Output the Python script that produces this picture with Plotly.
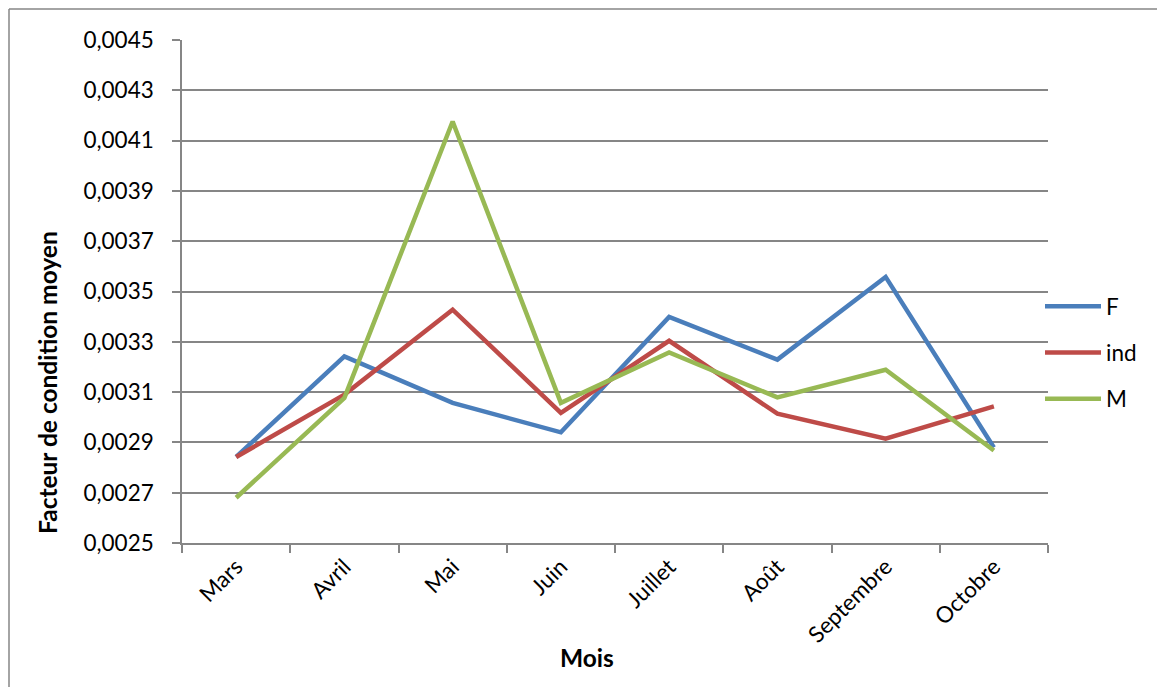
import plotly.graph_objects as go

# Mean condition factor by month and sex
mois = ["Mars", "Avril", "Mai", "Juin", "Juillet", "Août", "Septembre", "Octobre"]
f_vals = [0.002842, 0.003242, 0.003057, 0.002940, 0.003399, 0.003229, 0.003558, 0.002880]
ind_vals = [0.002842, 0.003090, 0.003428, 0.003017, 0.003304, 0.003014, 0.002915, 0.003043]
m_vals = [0.002680, 0.003077, 0.004176, 0.003057, 0.003258, 0.003079, 0.003189, 0.002868]

series = [("F", f_vals, "#4A7EBB"), ("ind", ind_vals, "#BE4B48"), ("M", m_vals, "#98B954")]

FONT = "Lato, 'Open Sans', sans-serif"
GRID = "#868686"
TICK_SIZE = 22.5
TITLE_SIZE = 24.5

W, H = 1157, 687
L, R, T, B = 182, 109, 40, 144
pw, ph = W - L - R, H - T - B


def px_x(x):
    return (x - L) / pw


def px_y(y):
    return (H - B - y) / ph


fig = go.Figure()
for name, vals, col in series:
    fig.add_trace(go.Scatter(
        x=mois, y=vals, name=name, mode="lines", legendgroup=name,
        line=dict(color=col, width=4.5),
    ))

fig.update_layout(
    width=W, height=H,
    margin=dict(l=L, r=R, t=T, b=B),
    paper_bgcolor="white", plot_bgcolor="white",
    separators=", ",
    font=dict(family=FONT, size=TICK_SIZE, color="black"),
    showlegend=True,
    legend=dict(
        x=px_x(1040), y=px_y(285), xanchor="left", yanchor="top",
        font=dict(family=FONT, size=TICK_SIZE, color="black"),
        tracegroupgap=14, itemwidth=56, bgcolor="rgba(0,0,0,0)",
    ),
    xaxis=dict(
        type="category", range=[-0.5, 7.5], tickson="boundaries",
        showgrid=False, showline=True, linecolor=GRID, linewidth=1.5,
        ticks="outside", ticklen=8, tickcolor=GRID, tickwidth=1.5,
        tickangle=-45, tickfont=dict(family=FONT, size=TICK_SIZE),
    ),
    yaxis=dict(
        range=[0.0025, 0.0045], dtick=0.0002, tick0=0.0025, tickformat=".4f",
        showgrid=True, gridcolor=GRID, gridwidth=1.5,
        showline=True, linecolor=GRID, linewidth=1.5,
        ticks="outside", ticklen=8, tickcolor=GRID, tickwidth=1.5,
        ticklabelstandoff=14, tickfont=dict(family=FONT, size=TICK_SIZE),
        zeroline=False,
    ),
    annotations=[
        dict(text="<b>Facteur de condition moyen</b>", textangle=-90,
             x=px_x(48), y=px_y(383), xref="paper", yref="paper",
             xanchor="center", yanchor="middle",
             showarrow=False, font=dict(family=FONT, size=TITLE_SIZE)),
        dict(text="<b>Mois</b>",
             x=px_x(587), y=px_y(657), xref="paper", yref="paper",
             xanchor="center", yanchor="middle",
             showarrow=False, font=dict(family=FONT, size=TITLE_SIZE)),
    ],
    shapes=[
        dict(type="line", xref="paper", yref="paper",
             x0=px_x(9), x1=px_x(9), y0=px_y(9), y1=px_y(700),
             line=dict(color=GRID, width=1.5)),
        dict(type="line", xref="paper", yref="paper",
             x0=px_x(9), x1=px_x(1170), y0=px_y(9), y1=px_y(9),
             line=dict(color=GRID, width=1.5)),
    ],
)

fig.write_html("out.html")
